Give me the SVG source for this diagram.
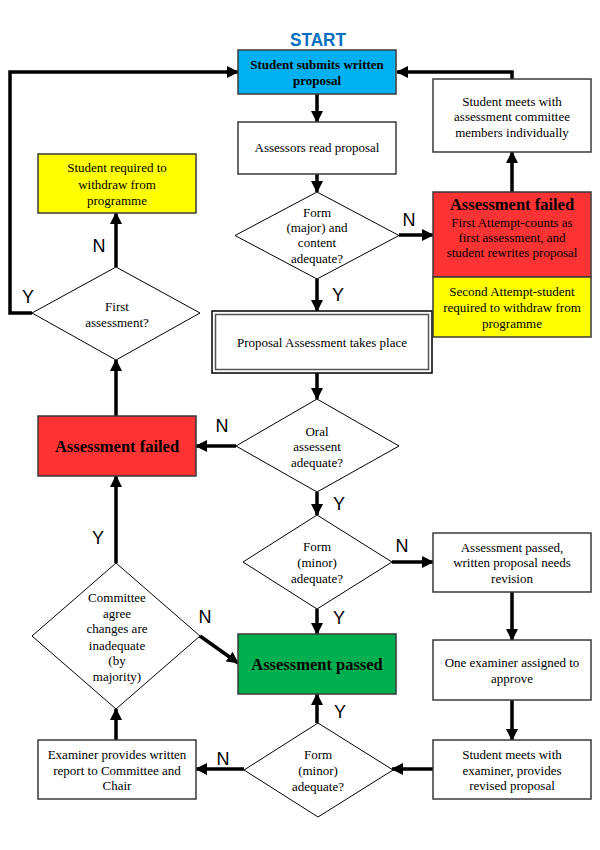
<svg xmlns="http://www.w3.org/2000/svg" width="600" height="850" viewBox="0 0 600 850">
<defs>
<marker id="ah" viewBox="0 0 12 12" refX="11" refY="6" markerWidth="12" markerHeight="12" markerUnits="userSpaceOnUse" orient="auto">
<path d="M0,0 L12,6 L0,12 Z" fill="#000"/>
</marker>
<style>
.box{stroke:#3a3a3a;stroke-width:1.5}
.dia{fill:#fff;stroke:#000;stroke-width:1}
.t{font-family:"Liberation Serif","Times New Roman",serif;font-size:13px;text-anchor:middle;fill:#000}
.b{font-weight:bold}
.big{font-size:16.5px;font-weight:bold}
.lab{font-family:"Liberation Sans",Arial,sans-serif;font-size:18px;text-anchor:middle;fill:#000}
.c{fill:none;stroke:#000;stroke-width:3.5;marker-end:url(#ah)}
</style>
</defs>
<rect width="600" height="850" fill="#fff"/>
<text x="318" y="46" font-family="'Liberation Sans',Arial,sans-serif" font-size="19" font-weight="bold" fill="#0070C0" text-anchor="middle" textLength="56" lengthAdjust="spacingAndGlyphs">START</text>

<g id="connectors">
<path class="c" d="M317,94 V122"/>
<path class="c" d="M317,174 V192"/>
<path class="c" d="M317,279 V311"/>
<path class="c" d="M399,235 H433"/>
<path class="c" d="M512,192 V152"/>
<path class="c" d="M512,79 V72 H397"/>
<path class="c" d="M317,373 V399"/>
<path class="c" d="M236,446 H196"/>
<path class="c" d="M317,492 V515"/>
<path class="c" d="M392,562 H433"/>
<path class="c" d="M317,609 V634"/>
<path class="c" d="M512,592 V640"/>
<path class="c" d="M512,700 V740"/>
<path class="c" d="M433,769 H392"/>
<path class="c" d="M317,723 V694"/>
<path class="c" d="M244,769 H196"/>
<path class="c" d="M116,740 V709"/>
<path class="c" d="M116,563 V476"/>
<path class="c" d="M200,636 L238,663"/>
<path class="c" d="M116,416 V360"/>
<path class="c" d="M116,267 V213"/>
<path class="c" d="M32,313 H10 V72 H238"/>
</g>

<g id="labels">
<text class="lab" x="409" y="226">N</text>
<text class="lab" x="338" y="301">Y</text>
<text class="lab" x="222" y="432">N</text>
<text class="lab" x="339" y="510">Y</text>
<text class="lab" x="402" y="552">N</text>
<text class="lab" x="339" y="624">Y</text>
<text class="lab" x="205" y="623">N</text>
<text class="lab" x="98" y="544">Y</text>
<text class="lab" x="340" y="718">Y</text>
<text class="lab" x="223" y="765">N</text>
<text class="lab" x="99" y="252">N</text>
<text class="lab" x="28" y="303">Y</text>
</g>

<g id="submit">
<rect class="box" x="238" y="50" width="158" height="44" fill="#00B0F0"/>
<text class="t b" x="317" y="69">Student submits written</text>
<text class="t b" x="317" y="85">proposal</text>
</g>

<g id="read">
<rect class="box" x="238" y="122" width="158" height="52" fill="#fff"/>
<text class="t" x="317" y="152">Assessors read proposal</text>
</g>

<g id="formMajor">
<polygon class="dia" points="317,192 399,235.5 317,279 235,235.5"/>
<text class="t" x="317" y="217">Form</text>
<text class="t" x="317" y="232">(major) and</text>
<text class="t" x="317" y="247">content</text>
<text class="t" x="317" y="263">adequate?</text>
</g>

<g id="proposalAssessment">
<rect x="212" y="311" width="220" height="62" fill="#fff" stroke="#000" stroke-width="1.5"/>
<rect x="215.5" y="314.5" width="213" height="55" fill="none" stroke="#555" stroke-width="1.5"/>
<text class="t" x="322" y="347">Proposal Assessment takes place</text>
</g>

<g id="meetsCommittee">
<rect class="box" x="433" y="79" width="158" height="73" fill="#fff"/>
<text class="t" x="512" y="106">Student meets with</text>
<text class="t" x="512" y="121">assessment committee</text>
<text class="t" x="512" y="137">members individually</text>
</g>

<g id="failedRight">
<rect class="box" x="433" y="192" width="158" height="85" fill="#FF3333"/>
<rect class="box" x="433" y="277" width="158" height="60" fill="#FFFF00"/>
<text class="t big" x="512" y="210">Assessment  failed</text>
<text class="t" x="512" y="227">First Attempt-counts as</text>
<text class="t" x="512" y="242">first assessment, and</text>
<text class="t" x="512" y="257">student rewrites proposal</text>
<text class="t" x="512" y="296">Second Attempt-student</text>
<text class="t" x="512" y="312">required to withdraw from</text>
<text class="t" x="512" y="328">programme</text>
</g>

<g id="withdraw">
<rect class="box" x="38" y="154" width="158" height="59" fill="#FFFF00"/>
<text class="t" x="117" y="172">Student required to</text>
<text class="t" x="117" y="189">withdraw from</text>
<text class="t" x="117" y="205">programme</text>
</g>

<g id="firstAssessment">
<polygon class="dia" points="116,267 200,313 116,360 32,313"/>
<text class="t" x="117" y="311">First</text>
<text class="t" x="117" y="327">assessment?</text>
</g>

<g id="failedLeft">
<rect class="box" x="38" y="416" width="158" height="60" fill="#FF3333"/>
<text class="t big" x="117" y="452">Assessment  failed</text>
</g>

<g id="oral">
<polygon class="dia" points="317,399 399,446 317,492 236,446"/>
<text class="t" x="317" y="436">Oral</text>
<text class="t" x="317" y="451">assessent</text>
<text class="t" x="317" y="467">adequate?</text>
</g>

<g id="formMinor1">
<polygon class="dia" points="317,515 392,562 317,609 243,562"/>
<text class="t" x="317" y="551">Form</text>
<text class="t" x="317" y="567">(minor)</text>
<text class="t" x="317" y="583">adequate?</text>
</g>

<g id="revision">
<rect class="box" x="433" y="533" width="158" height="59" fill="#fff"/>
<text class="t" x="512" y="552">Assessment passed,</text>
<text class="t" x="512" y="567">written proposal needs</text>
<text class="t" x="512" y="583">revision</text>
</g>

<g id="passed">
<rect class="box" x="238" y="634" width="158" height="60" fill="#00B050"/>
<text class="t big" x="317" y="670">Assessment  passed</text>
</g>

<g id="oneExaminer">
<rect class="box" x="433" y="640" width="158" height="60" fill="#fff"/>
<text class="t" x="512" y="667">One examiner assigned to</text>
<text class="t" x="512" y="683">approve</text>
</g>

<g id="committee">
<polygon class="dia" points="116,563 200,636 116,709 32,636"/>
<text class="t" x="117" y="602">Committee</text>
<text class="t" x="117" y="618">agree</text>
<text class="t" x="117" y="633">changes are</text>
<text class="t" x="117" y="650">inadequate</text>
<text class="t" x="117" y="665">(by</text>
<text class="t" x="117" y="681">majority)</text>
</g>

<g id="examinerReport">
<rect class="box" x="38" y="740" width="158" height="59" fill="#fff"/>
<text class="t" x="117" y="759">Examiner provides written</text>
<text class="t" x="117" y="775">report to Committee and</text>
<text class="t" x="117" y="790">Chair</text>
</g>

<g id="formMinor2">
<polygon class="dia" points="318,723 393,770 318,817 244,770"/>
<text class="t" x="318" y="759">Form</text>
<text class="t" x="318" y="775">(minor)</text>
<text class="t" x="318" y="791">adequate?</text>
</g>

<g id="meetsExaminer">
<rect class="box" x="433" y="740" width="158" height="59" fill="#fff"/>
<text class="t" x="512" y="759">Student meets with</text>
<text class="t" x="512" y="775">examiner, provides</text>
<text class="t" x="512" y="790">revised proposal</text>
</g>
</svg>
